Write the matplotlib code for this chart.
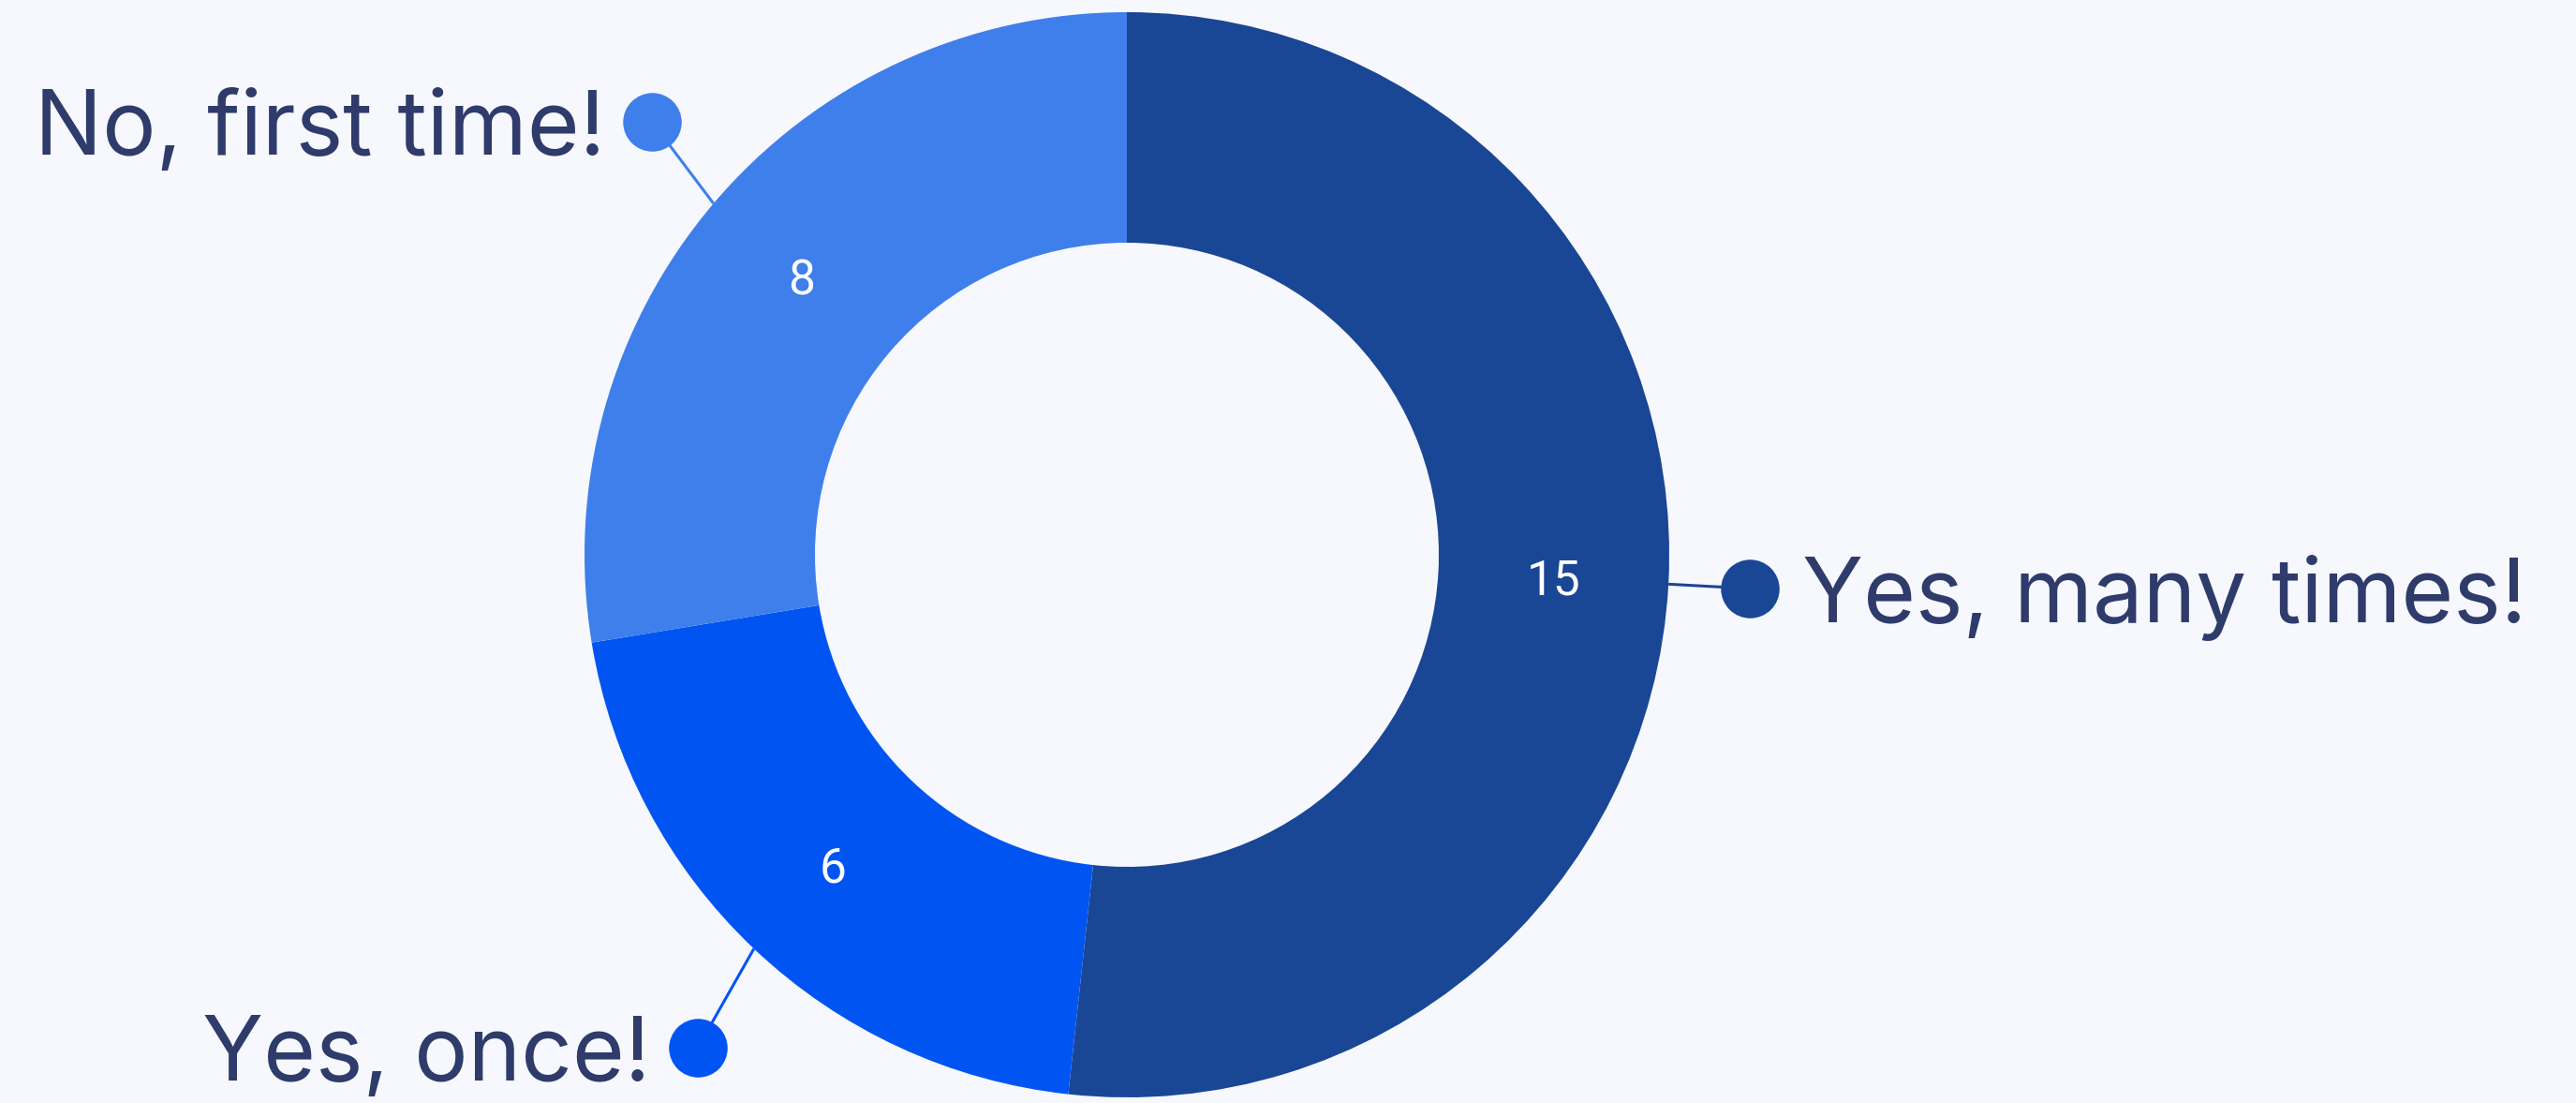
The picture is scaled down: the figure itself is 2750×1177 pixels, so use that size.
import numpy as np
import matplotlib
matplotlib.use("Agg")
from matplotlib import pyplot as plt

# donut data, clockwise from 12 o'clock
labels = ["Yes, many times!", "Yes, once!", "No, first time!"]
values = [15, 6, 8]
colors = ["#1A4696", "#0055F2", "#3F7FEB"]

bg = "#F6F8FD"
text_col = "#2E3B6B"

fig = plt.figure(figsize=(27.5, 11.77), dpi=100, facecolor=bg)
ax = fig.add_axes([0, 0, 1, 1])
ax.set_facecolor(bg)

cx, cy = 1203, 585
R = 579
ring = 246

wedges, _ = ax.pie(values, colors=colors, startangle=90, counterclock=False,
                   center=(cx, cy), radius=R,
                   wedgeprops=dict(width=ring, linewidth=0))

ax.set_xlim(0, 2750)
ax.set_ylim(0, 1177)
ax.set_aspect("equal")
ax.axis("off")

# where the label dots sit: radius (times outer radius) and small angle nudge
dot_r = [1.15, 1.205, 1.185]
dot_shift = [0, 2.4, -2.0]

for w, lab, val, col, k, d in zip(wedges, labels, values, colors, dot_r, dot_shift):
    mid = (w.theta1 + w.theta2) / 2
    ang = np.deg2rad(mid)
    c, s = np.cos(ang), np.sin(ang)

    # value in the middle of the ring
    rm = R - ring / 2
    ax.text(cx + rm * c, cy + rm * s - 4, str(val), color="white", fontsize=37,
            family="Roboto", ha="center", va="center")

    # connector + dot + label
    a2 = np.deg2rad(mid + d)
    x0, y0 = cx + R * c, cy + R * s
    x1, y1 = cx + R * k * np.cos(a2), cy + R * k * np.sin(a2)
    ax.plot([x0, x1], [y0, y1], color=col, lw=2.2, solid_capstyle="butt")
    ax.plot(x1, y1, "o", color=col, markersize=45, markeredgewidth=0)
    if c > 0:
        ax.text(x1 + 56, y1, lab, color=text_col, fontsize=69, family="Inter",
                ha="left", va="center_baseline")
    else:
        ax.text(x1 - 50, y1, lab, color=text_col, fontsize=69, family="Inter",
                ha="right", va="center_baseline")

fig.savefig("out.png", dpi=100, facecolor=bg)
